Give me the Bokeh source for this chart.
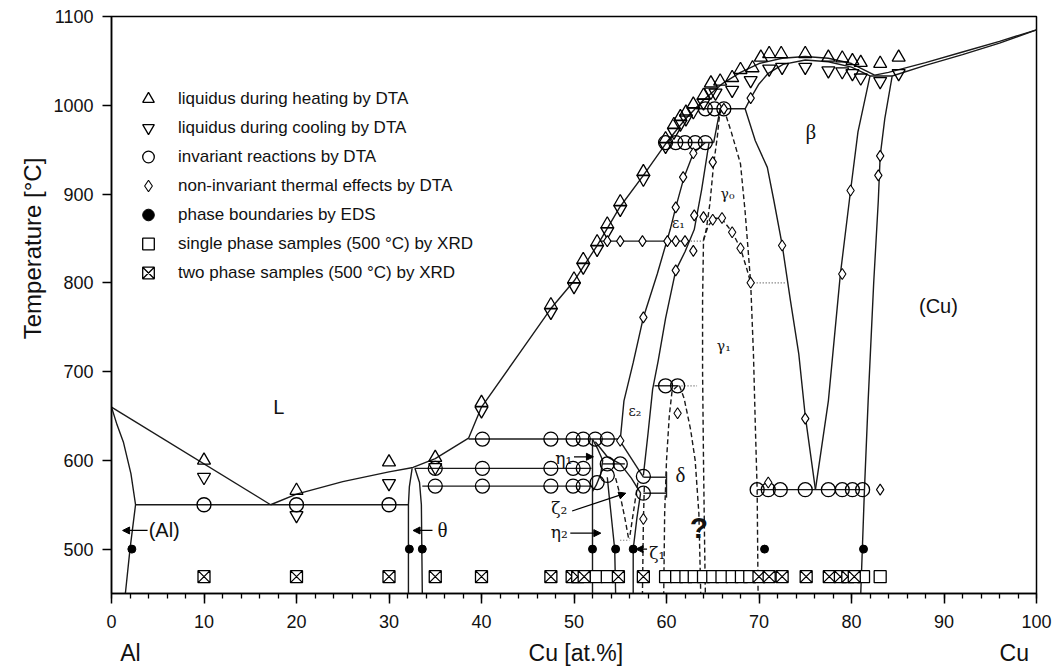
import math
from bokeh.plotting import figure
from bokeh.models import (Range1d, FixedTicker, Arrow, NormalHead, Legend,
                          LegendItem, ColumnDataSource, LinearAxis)
from bokeh.embed import file_html
from bokeh.resources import INLINE
from bokeh.core.properties import value

# ---------------- axis ticks ----------------
x_ticks = [0, 10, 20, 30, 40, 50, 60, 70, 80, 90, 100]
x_minor = list(range(0, 101, 2))
y_ticks = [500, 600, 700, 800, 900, 1000, 1100]

# ---------------- solid phase boundaries (x: at.% Cu, y: °C) ----------------
al_liq_x = [0, 17.2]
al_liq_y = [660, 550]
al_sol_x = [0, 0.6, 1.3, 2.1, 2.6, 2.3, 2.0, 1.7, 1.5]
al_sol_y = [660, 640, 620, 585, 550, 525, 500, 470, 450]
eut_x = [2.6, 32.1]
eut_y = [550, 550]
liq_x = [17.2, 20, 25, 30, 32.6, 35, 38.6, 40, 44, 47.5, 50, 52.5, 55, 57.5, 60,
         62, 64, 66, 68, 70, 72.5, 75, 77.5, 80, 82.5]
liq_y = [550, 562, 576, 587, 592, 602, 625, 660, 719, 771, 802, 842, 886, 921, 958,
         984, 1006, 1024, 1037, 1047, 1053, 1055, 1053, 1047, 1034]
cu_liq_x = [82.5, 84, 88, 92, 96, 100]
cu_liq_y = [1034, 1037, 1048, 1060, 1072, 1085]
cu_sol_x = [84.4, 88, 92, 96, 100]
cu_sol_y = [1033, 1045, 1057, 1070, 1085]
beta_sol_x = [68.5, 69.1, 70.0, 71.0, 72.6, 75.0, 77.5, 80.0, 82.0]
beta_sol_y = [996, 1008, 1024, 1036, 1046, 1051, 1049, 1043, 1033]
h1033_x = [82.0, 84.4]
h1033_y = [1033, 1033]
beta_l_x = [68.5, 69.6, 70.9, 71.6, 72.5, 73.4, 74.3, 75.0, 76.1]
beta_l_y = [996, 960, 930, 893, 843, 780, 720, 650, 567]
beta_r_x = [76.1, 77.5, 78.8, 79.9, 80.7, 82.0]
beta_r_y = [567, 667, 810, 904, 970, 1033]
cu_solv_x = [84.4, 83.6, 83.1, 82.9, 82.4, 81.8, 81.4, 81.0]
cu_solv_y = [1033, 985, 943, 893, 800, 667, 567, 450]
h567_x = [69.8, 81.4]
h567_y = [567, 567]
h996_x = [63.2, 68.5]
h996_y = [996, 996]
eps_beta_x = [65.8, 65.1]
eps_beta_y = [996, 958]
h958_x = [60.0, 65.1]
h958_y = [958, 958]
eps_l_x = [64.2, 62.9, 61.9, 61.0, 60.4, 59.0, 57.5, 56.4, 55.4, 55.0]
eps_l_y = [958, 946, 919, 885, 860, 810, 761, 710, 667, 623]
eps_r_x = [64.6, 63.8, 63.0, 62.0, 61.0, 59.9, 59.1, 58.5, 58.0, 57.5]
eps_r_y = [958, 905, 860, 835, 814, 760, 712, 680, 630, 583]
h847_x = [52.8, 62.3]
h847_y = [847, 847]
h624_x = [38.6, 54.9]
h624_y = [624, 624]
eps2_low_x = [54.9, 57.5]
eps2_low_y = [623, 581]
h591_x = [32.8, 51.9]
h591_y = [591, 591]
h596_x = [53.0, 55.5]
h596_y = [596, 596]
h571_x = [33.6, 51.9]
h571_y = [571, 571]
brk_a_x = [57.5, 60.0]
brk_a_y = [581, 581]
brk_b_x = [57.5, 60.0]
brk_b_y = [563, 563]
brk_v_x = [60.0, 60.0]
brk_v_y = [587, 558]
h684_x = [58.7, 61.3]
h684_y = [684, 684]
th_l_x = [32.5, 32.2, 32.1, 32.1]
th_l_y = [591, 570, 550, 450]
th_r_x = [32.8, 33.3, 33.5, 33.6]
th_r_y = [591, 575, 550, 450]
eta_l_x = [52.0, 52.0]
eta_l_y = [624, 450]
eta1_r_x = [52.0, 52.6, 53.1, 52.9, 52.4, 52.0]
eta1_r_y = [624, 612, 600, 585, 572, 565]
eta2_r_x = [53.6, 53.8, 54.1, 54.4, 54.5]
eta2_r_y = [581, 560, 530, 500, 450]
zeta1_l_x = [52.3, 53.6, 55.0, 56.2, 57.2]
zeta1_l_y = [621, 604, 596, 580, 563]
zeta_dn_x = [57.2, 56.8, 56.4, 56.4]
zeta_dn_y = [563, 535, 500, 450]

# ---------------- dashed boundaries ----------------
g0_l_x = [65.8, 65.5, 65.1, 64.7, 64.3, 64.0, 63.9, 63.9, 64.0, 64.1, 64.2]
g0_l_y = [996, 965, 934, 890, 860, 848, 780, 700, 600, 520, 450]
g0_r_x = [66.2, 67.0, 68.0, 68.5, 68.8, 69.1, 69.4, 69.6, 69.8, 69.9]
g0_r_y = [996, 970, 934, 880, 840, 800, 720, 640, 567, 450]
dome_x = [64.0, 64.5, 65.2, 66.0, 67.1, 68.0, 68.7, 69.1]
dome_y = [848, 864, 873, 872, 857, 839, 815, 800]
del_l_x = [61.2, 60.6, 60.3, 60.0, 59.8, 59.7]
del_l_y = [684, 678, 650, 600, 540, 450]
del_r_x = [61.4, 61.9, 62.6, 63.1, 63.5, 63.7]
del_r_y = [684, 670, 635, 600, 540, 450]
z2_l_x = [54.5, 55.0, 55.5, 55.9]
z2_l_y = [580, 560, 535, 512]
z2_r_x = [56.9, 56.4, 56.0]
z2_r_y = [575, 540, 512]
z1_r_x = [57.6, 57.5, 57.4]
z1_r_y = [570, 530, 450]

# ---------------- dotted lines ----------------
d847_x = [62.3, 64.0]
d847_y = [847, 847]
d684_x = [61.3, 63.3]
d684_y = [684, 684]
d800_x = [69.1, 72.9]
d800_y = [800, 800]
d510_x = [55.0, 56.0]
d510_y = [510, 510]

# ---------------- measured points ----------------
up_x = [10, 20, 30, 35, 40, 47.5, 50, 51, 52.5, 53.6, 55, 57.5, 59.9, 60.8, 61.5, 62.1,
        62.9, 64.0, 64.8, 65.8, 67.1, 68.0, 69.3, 70.2, 71.1, 72.4, 75.0, 77.5, 79.0,
        80.1, 81.0, 83.1, 85.1]
up_y = [600, 566, 598, 603, 665, 775, 804, 826, 846, 866, 891, 925, 962, 978, 987, 992,
        1001, 1011, 1025, 1027, 1031, 1040, 1042, 1054, 1058, 1058, 1058, 1054, 1053,
        1050, 1048, 1047, 1054]
dn_x = [10, 20, 30, 35, 40, 47.5, 50, 51, 52.5, 53.6, 55, 57.5, 59.9, 60.8, 61.5, 62.1,
        62.9, 64.0, 64.8, 65.3, 67.1, 69.1, 71.1, 72.5, 75.0, 77.5, 79.0, 80.1, 81.0,
        83.1, 85.1]
dn_y = [581, 538, 574, 592, 656, 767, 796, 818, 838, 858, 883, 917, 954, 970, 979, 985,
        993, 1003, 1015, 1014, 1017, 1028, 1041, 1043, 1043, 1039, 1038, 1036, 1031,
        1027, 1036]
circ_x = [10, 20, 30,
          40.1, 47.5, 49.9, 51.0, 52.3, 53.6,
          35, 40.1, 47.5, 49.9, 51.0, 53.6, 55.0,
          35, 40.1, 47.5, 49.9, 51.0, 52.5, 53.6,
          57.5, 57.5, 59.9, 61.2,
          59.9, 61.0, 62.0, 63.1, 64.2,
          64.2, 65.2, 66.2,
          69.8, 71.0, 72.3, 75.0, 77.5, 79.0, 80.1, 81.2]
circ_y = [550, 550, 550,
          624, 624, 624, 624, 624, 624,
          591, 591, 591, 591, 591, 596, 596,
          571, 571, 571, 571, 571, 575, 583,
          582, 563, 684, 684,
          958, 958, 958, 958, 958,
          996, 996, 996,
          567, 567, 567, 567, 567, 567, 567, 567]
dia_x = [55.0, 53.6, 55.0, 57.4, 60.1, 61.0, 62.0, 62.9, 63.0, 64.0, 65.0, 66.0, 67.1,
         68.0, 69.1, 62.9, 61.8, 61.0, 57.5, 61.0, 65.0, 69.1, 72.5, 75.0, 79.0, 79.9,
         83.1, 82.9, 61.2, 57.5, 83.1, 71.0, 66.2]
dia_y = [622, 847, 847, 847, 847, 847, 847, 836, 876, 874, 871, 873, 857, 839, 800,
         946, 919, 885, 761, 814, 936, 1008, 842, 647, 810, 904, 943, 921, 653, 534,
         567, 575, 996]
eds_x = [2.2, 32.2, 33.6, 52.0, 54.5, 56.4, 70.6, 81.3]
eds_y = [500, 500, 500, 500, 500, 500, 500, 500]
xrd1_x = [52.4, 53.6, 59.9, 61.1, 62.1, 63.0, 64.0, 65.0, 66.0, 67.1, 68.1, 69.0, 81.3, 83.1]
xrd1_y = [469] * len(xrd1_x)
xrd2_x = [10, 20, 30, 35, 40, 47.5, 49.8, 50.4, 51.1, 54.8, 57.5, 70.0, 71.1, 72.5, 75.1,
          77.6, 78.8, 79.6, 80.3]
xrd2_y = [469] * len(xrd2_x)

legend_labels = ["liquidus during heating by DTA", "liquidus during cooling by DTA",
                 "invariant reactions by DTA", "non-invariant thermal effects by DTA",
                 "phase boundaries by EDS", "single phase samples (500 °C) by XRD",
                 "two phase samples (500 °C) by XRD"]

# ---------------- region labels ----------------
sans_txt = ["L", "(Cu)", "(Al)"]
sans_x = [18.1, 89.4, 5.7]
sans_y = [660, 774, 521]
serif_big_txt = ["β", "δ", "θ"]
serif_big_x = [75.6, 61.5, 35.8]
serif_big_y = [970, 583, 521]
serif_mid_txt = ["η₁", "η₂", "ζ₂", "ζ₁"]
serif_mid_x = [48.9, 48.4, 48.4, 59.0]
serif_mid_y = [603, 519, 546, 496]
serif_sm_txt = ["γ₀", "γ₁", "ε₁", "ε₂"]
serif_sm_x = [66.6, 66.2, 61.3, 56.6]
serif_sm_y = [900, 729, 867, 656]
arrow_x0 = [3.9, 34.7, 50.0, 49.6, 49.8, 57.9]
arrow_y0 = [521, 521, 604, 518, 543, 500]
arrow_x1 = [1.2, 32.6, 52.1, 52.9, 55.6, 56.7]
arrow_y1 = [521, 521, 604, 518, 563, 500]

bottom_txt = ["Al", "Cu [at.%]", "Cu"]
bottom_x = [2.05, 50.2, 97.6]
y_title = "Temperature [°C]"
y_title_at = 941

# ---------------- figure ----------------
p = figure(width=1063, height=668, output_backend="svg", toolbar_location=None,
           x_range=Range1d(0, 100), y_range=Range1d(450, 1100),
           min_border_left=111, min_border_right=27, min_border_top=16,
           min_border_bottom=75)
p.grid.visible = False
p.outline_line_color = "black"
p.outline_line_width = 1.5
p.background_fill_color = "white"
p.border_fill_color = "white"

FONT = "Liberation Sans"
TXT = "#111111"
xa = p.xaxis[0]
xa.ticker = FixedTicker(ticks=x_ticks, minor_ticks=x_minor)
xa.major_tick_out = 10
xa.major_tick_in = 0
xa.minor_tick_out = 5
xa.minor_tick_in = 0
xa.major_label_standoff = 11
ya = p.yaxis[0]
ya.ticker = FixedTicker(ticks=y_ticks, minor_ticks=[])
ya.major_tick_out = 9
ya.major_tick_in = 0
ya.minor_tick_out = 0
ya.major_label_standoff = 9
for ax in (xa, ya):
    ax.axis_line_width = 1.5
    ax.axis_line_color = "black"
    ax.major_tick_line_width = 1.5
    ax.minor_tick_line_width = 1.3
    ax.major_label_text_font = FONT
    ax.major_label_text_font_size = "18px"
    ax.major_label_text_color = TXT

# second row of bottom labels: "Al", "Cu [at.%]", "Cu"
xb = LinearAxis(ticker=FixedTicker(ticks=bottom_x, minor_ticks=[]),
                major_label_overrides=dict(zip(bottom_x, bottom_txt)))
xb.axis_line_color = None
xb.major_tick_line_color = None
xb.minor_tick_line_color = None
xb.major_label_standoff = 3
xb.major_label_text_font = FONT
xb.major_label_text_font_size = "23px"
xb.major_label_text_color = TXT
p.add_layout(xb, "below")

# y title, offset upwards as in the original
yb = LinearAxis(ticker=FixedTicker(ticks=[y_title_at], minor_ticks=[]),
                major_label_overrides={y_title_at: y_title})
yb.axis_line_color = None
yb.major_tick_line_color = None
yb.minor_tick_line_color = None
yb.major_label_orientation = math.pi / 2
yb.major_label_standoff = 12
yb.major_label_text_font = FONT
yb.major_label_text_font_size = "24px"
yb.major_label_text_color = TXT
p.add_layout(yb, "left")

LC = "#1a1a1a"
solid = [(al_liq_x, al_liq_y), (al_sol_x, al_sol_y), (eut_x, eut_y), (liq_x, liq_y),
         (cu_liq_x, cu_liq_y), (cu_sol_x, cu_sol_y), (beta_sol_x, beta_sol_y),
         (h1033_x, h1033_y), (beta_l_x, beta_l_y), (beta_r_x, beta_r_y),
         (cu_solv_x, cu_solv_y), (h567_x, h567_y), (h996_x, h996_y),
         (eps_beta_x, eps_beta_y), (h958_x, h958_y), (eps_l_x, eps_l_y),
         (eps_r_x, eps_r_y), (h847_x, h847_y), (h624_x, h624_y),
         (eps2_low_x, eps2_low_y), (h591_x, h591_y), (h596_x, h596_y),
         (h571_x, h571_y), (brk_a_x, brk_a_y), (brk_b_x, brk_b_y), (brk_v_x, brk_v_y),
         (h684_x, h684_y), (th_l_x, th_l_y), (th_r_x, th_r_y), (eta_l_x, eta_l_y),
         (eta1_r_x, eta1_r_y), (eta2_r_x, eta2_r_y), (zeta1_l_x, zeta1_l_y),
         (zeta_dn_x, zeta_dn_y)]
dashed = [(g0_l_x, g0_l_y), (g0_r_x, g0_r_y), (dome_x, dome_y), (del_l_x, del_l_y),
          (del_r_x, del_r_y), (z2_l_x, z2_l_y), (z2_r_x, z2_r_y), (z1_r_x, z1_r_y)]
dotted = [(d847_x, d847_y), (d684_x, d684_y), (d800_x, d800_y), (d510_x, d510_y)]

p.multi_line(xs=[a for a, b in solid], ys=[b for a, b in solid],
             line_color=LC, line_width=1.4)
p.multi_line(xs=[a for a, b in dashed], ys=[b for a, b in dashed],
             line_color=LC, line_width=1.4, line_dash="5 3")
p.multi_line(xs=[a for a, b in dotted], ys=[b for a, b in dotted],
             line_color="#555555", line_width=1.2, line_dash="1 2")

MW = 1.3
r_up = p.scatter(up_x, up_y, marker="triangle", size=13, line_color="black",
                 fill_color=None, line_width=MW)
r_dn = p.scatter(dn_x, dn_y, marker="inverted_triangle", size=13, line_color="black",
                 fill_color=None, line_width=MW)
r_ci = p.scatter(circ_x, circ_y, marker="circle", size=14, line_color="black",
                 fill_color=None, line_width=MW)
r_di = p.scatter(dia_x, dia_y, marker="diamond", size=11, line_color="black",
                 fill_color="white", line_width=1.1)
r_ed = p.scatter(eds_x, eds_y, marker="circle", size=8, line_color="black",
                 fill_color="black")
r_x1 = p.scatter(xrd1_x, xrd1_y, marker="square", size=12, line_color="black",
                 fill_color="white", line_width=MW)
r_x2 = p.scatter(xrd2_x, xrd2_y, marker="square_x", size=12, line_color="black",
                 fill_color="white", line_width=MW)

legend = Legend(items=[LegendItem(label=t, renderers=[r]) for t, r in
                       zip(legend_labels, [r_up, r_dn, r_ci, r_di, r_ed, r_x1, r_x2])],
                location=(22, 306), orientation="vertical")
legend.glyph_width = 30
legend.glyph_height = 29
legend.label_height = 29
legend.spacing = 0
legend.padding = 0
legend.margin = 0
legend.label_standoff = 15
legend.background_fill_alpha = 0
legend.border_line_alpha = 0
legend.label_text_font = FONT
legend.label_text_font_size = "17px"
legend.label_text_color = TXT
p.add_layout(legend)

p.text(sans_x, sans_y, text=sans_txt, text_font=value(FONT), text_font_size="20px",
       text_align="center", text_baseline="middle", text_color=TXT)
p.text(serif_big_x, serif_big_y, text=serif_big_txt, text_font=value("Liberation Serif"),
       text_font_size="21px", text_align="center", text_baseline="middle",
       text_color=TXT)
p.text(serif_mid_x, serif_mid_y, text=serif_mid_txt, text_font=value("DejaVu Serif"),
       text_font_size="17px", text_align="center", text_baseline="middle",
       text_color=TXT)
p.text(serif_sm_x, serif_sm_y, text=serif_sm_txt, text_font=value("DejaVu Serif"),
       text_font_size="14px", text_align="center", text_baseline="middle",
       text_color=TXT)
p.text([63.5], [524], text=["?"], text_font=value(FONT), text_font_size="30px",
       text_font_style="bold", text_align="center", text_baseline="middle",
       text_color=TXT)

asrc = ColumnDataSource(dict(x0=arrow_x0, y0=arrow_y0, x1=arrow_x1, y1=arrow_y1))
p.add_layout(Arrow(end=NormalHead(size=7, fill_color="black", line_color="black",
                                  line_width=1),
                   x_start="x0", y_start="y0", x_end="x1", y_end="y1", source=asrc,
                   line_color="black", line_width=1.2))

open("out.html", "w").write(file_html(p, INLINE))
